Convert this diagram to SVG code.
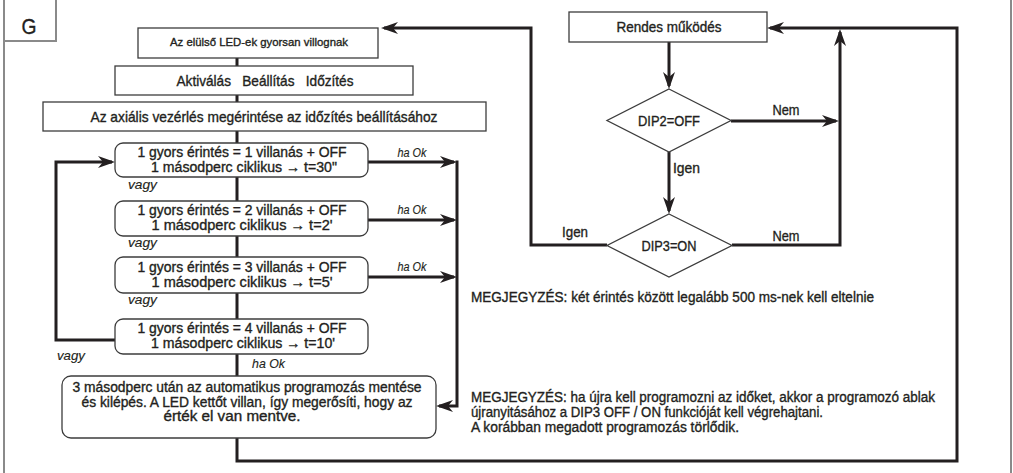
<svg xmlns="http://www.w3.org/2000/svg" width="1013" height="473" viewBox="0 0 1013 473">
<defs>
<style>
text{font-family:"Liberation Sans Narrow","Liberation Sans",Arial,sans-serif;fill:#231f20;stroke:#231f20;stroke-width:0.35}
.c{text-anchor:middle}
.box{fill:#fff;stroke:#3c3c3c;stroke-width:1.3}
.frame{fill:none;stroke:#8a8a8a;stroke-width:2}
.con{fill:none;stroke:#231f20;stroke-width:3;stroke-linejoin:miter}
.i{font-style:italic;stroke-width:0.15}
</style>
<marker id="ah" viewBox="0 0 17 12" refX="14" refY="6" markerWidth="17" markerHeight="12" markerUnits="userSpaceOnUse" orient="auto">
<path d="M0,0 L17,6 L0,12 L5,6 Z" fill="#231f20"/>
</marker>
</defs>
<rect width="1013" height="473" fill="#fff"/>
<g id="frame">
<line class="frame" x1="4" y1="0" x2="4" y2="473"/>
<line class="frame" x1="1011" y1="0" x2="1011" y2="473"/>
<path class="frame" d="M4,41 H56 V0"/>
<text x="29" y="34" class="c" font-size="22" textLength="15" lengthAdjust="spacingAndGlyphs">G</text>
</g>
<g id="connectors">
<path class="con" d="M237,58 V376"/>
<path class="con" d="M368,162 H454" marker-end="url(#ah)"/>
<path class="con" d="M368,220 H454" marker-end="url(#ah)"/>
<path class="con" d="M368,277 H454" marker-end="url(#ah)"/>
<path class="con" d="M457,160.5 V406 H439" marker-end="url(#ah)"/>
<path class="con" d="M115,340 H56 V162 H112" marker-end="url(#ah)"/>
<path class="con" d="M237,438 V461 H957 V28 H770" marker-end="url(#ah)"/>
<path class="con" d="M669,42 V86" marker-end="url(#ah)"/>
<path class="con" d="M731,121 H836" marker-end="url(#ah)"/>
<path class="con" d="M669,152 V211" marker-end="url(#ah)"/>
<path class="con" d="M607,245 H531 V28 H384" marker-end="url(#ah)"/>
<path class="con" d="M732,245 H840 V32" marker-end="url(#ah)"/>
<text x="412" y="157" class="c i" font-size="12" textLength="29" lengthAdjust="spacingAndGlyphs">ha Ok</text>
<text x="412" y="214" class="c i" font-size="12" textLength="29" lengthAdjust="spacingAndGlyphs">ha Ok</text>
<text x="412" y="271" class="c i" font-size="12" textLength="29" lengthAdjust="spacingAndGlyphs">ha Ok</text>
<text x="252" y="368" class="i" font-size="13.5" textLength="33" lengthAdjust="spacingAndGlyphs">ha Ok</text>
<text x="128" y="189" class="i" font-size="13.5" textLength="29" lengthAdjust="spacingAndGlyphs">vagy</text>
<text x="128" y="247" class="i" font-size="13.5" textLength="29" lengthAdjust="spacingAndGlyphs">vagy</text>
<text x="128" y="304" class="i" font-size="13.5" textLength="29" lengthAdjust="spacingAndGlyphs">vagy</text>
<text x="57" y="360" class="i" font-size="13.5" textLength="28" lengthAdjust="spacingAndGlyphs">vagy</text>
<text x="786" y="115" class="c" font-size="14.5" textLength="27" lengthAdjust="spacingAndGlyphs">Nem</text>
<text x="673" y="173" font-size="14.5" textLength="27" lengthAdjust="spacingAndGlyphs">Igen</text>
<text x="575" y="237" class="c" font-size="14.5" textLength="26" lengthAdjust="spacingAndGlyphs">Igen</text>
<text x="786" y="241" class="c" font-size="14.5" textLength="27" lengthAdjust="spacingAndGlyphs">Nem</text>
</g>
<g id="n-led">
<rect class="box" x="138" y="28" width="240" height="30"/>
<text x="259" y="46" class="c" font-size="11.5" textLength="178" lengthAdjust="spacingAndGlyphs">Az elülső LED-ek gyorsan villognak</text>
</g>
<g id="n-aktivalas">
<rect class="box" x="115" y="66" width="298" height="29"/>
<text x="265" y="86" class="c" font-size="14.5" textLength="177" lengthAdjust="spacingAndGlyphs" style="white-space:pre">Aktiválás   Beállítás   Időzítés</text>
</g>
<g id="n-axialis">
<rect class="box" x="43" y="102" width="443" height="29"/>
<text x="264" y="122" class="c" font-size="14.5" textLength="347" lengthAdjust="spacingAndGlyphs">Az axiális vezérlés megérintése az időzítés beállításához</text>
</g>
<g id="n-t30">
<rect class="box" x="115" y="143" width="253" height="34" rx="8"/>
<text x="242" y="157" class="c" font-size="14" textLength="209" lengthAdjust="spacingAndGlyphs">1 gyors érintés = 1 villanás + OFF</text>
<text x="244" y="172" class="c" font-size="14" textLength="186" lengthAdjust="spacingAndGlyphs">1 másodperc ciklikus → t=30"</text>
</g>
<g id="n-t2">
<rect class="box" x="115" y="201" width="253" height="35" rx="8"/>
<text x="242" y="215" class="c" font-size="14" textLength="209" lengthAdjust="spacingAndGlyphs">1 gyors érintés = 2 villanás + OFF</text>
<text x="242" y="230" class="c" font-size="14" textLength="181" lengthAdjust="spacingAndGlyphs">1 másodperc ciklikus → t=2'</text>
</g>
<g id="n-t5">
<rect class="box" x="115" y="257" width="253" height="36" rx="8"/>
<text x="242" y="272" class="c" font-size="14" textLength="209" lengthAdjust="spacingAndGlyphs">1 gyors érintés = 3 villanás + OFF</text>
<text x="242" y="287" class="c" font-size="14" textLength="181" lengthAdjust="spacingAndGlyphs">1 másodperc ciklikus → t=5'</text>
</g>
<g id="n-t10">
<rect class="box" x="115" y="319" width="253" height="35" rx="8"/>
<text x="242" y="333" class="c" font-size="14" textLength="209" lengthAdjust="spacingAndGlyphs">1 gyors érintés = 4 villanás + OFF</text>
<text x="243" y="348" class="c" font-size="14" textLength="184" lengthAdjust="spacingAndGlyphs">1 másodperc ciklikus → t=10'</text>
</g>
<g id="n-mentes">
<rect class="box" x="62" y="376" width="374" height="62" rx="9"/>
<text x="247" y="392" class="c" font-size="14" textLength="349" lengthAdjust="spacingAndGlyphs">3 másodperc után az automatikus programozás mentése</text>
<text x="247" y="407" class="c" font-size="14" textLength="331" lengthAdjust="spacingAndGlyphs">és kilépés. A LED kettőt villan, így megerősíti, hogy az</text>
<text x="232" y="421" class="c" font-size="14" textLength="137" lengthAdjust="spacingAndGlyphs">érték el van mentve.</text>
</g>
<g id="n-rendes">
<rect class="box" x="569" y="12" width="198" height="30"/>
<text x="669" y="32" class="c" font-size="14.5" textLength="105" lengthAdjust="spacingAndGlyphs">Rendes működés</text>
</g>
<g id="n-dip2">
<polygon class="box" points="669,89 731,120.5 669,152 607,120.5"/>
<text x="669" y="126" class="c" font-size="14.5" textLength="62" lengthAdjust="spacingAndGlyphs">DIP2=OFF</text>
</g>
<g id="n-dip3">
<polygon class="box" points="669,214 732,245.5 669,277 607,245.5"/>
<text x="669" y="251" class="c" font-size="14.5" textLength="55" lengthAdjust="spacingAndGlyphs">DIP3=ON</text>
</g>
<g id="n-notes">
<text x="471" y="302" font-size="14" textLength="403" lengthAdjust="spacingAndGlyphs">MEGJEGYZÉS: két érintés között legalább 500 ms-nek kell eltelnie</text>
<text x="471" y="402" font-size="14" textLength="464" lengthAdjust="spacingAndGlyphs">MEGJEGYZÉS: ha újra kell programozni az időket, akkor a programozó ablak</text>
<text x="471" y="417" font-size="14" textLength="352" lengthAdjust="spacingAndGlyphs">újranyitásához a DIP3 OFF / ON funkcióját kell végrehajtani.</text>
<text x="471" y="432" font-size="14" textLength="268" lengthAdjust="spacingAndGlyphs">A korábban megadott programozás törlődik.</text>
</g>
</svg>
